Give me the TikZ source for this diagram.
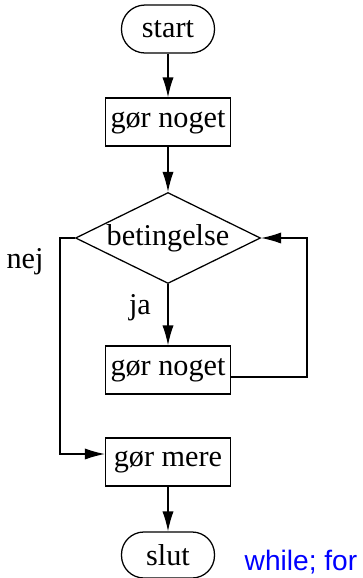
\documentclass[tikz,border=0pt]{standalone}
\usepackage{fontspec}
\setmainfont{Liberation Serif}
\newfontfamily\sansfont{Liberation Sans}
\usetikzlibrary{arrows.meta,shapes.geometric}

\begin{document}
\begin{tikzpicture} [> = {Latex[length=5mm,width=2.8mm]}, line width=0.9pt, font=\fontsize{21.5}{26}\selectfont]
            % Ramme
            \useasboundingbox (0,0) rectangle (9.075,-14.45);

            % Stilarter
            \tikzstyle{terminal}=[draw, rectangle, rounded corners=5.9mm, minimum width=2.325cm, minimum height=1.2cm, inner sep=0pt]
            \tikzstyle{handling}=[draw, rectangle, minimum width=3.125cm, minimum height=1.2cm, inner sep=0pt]
            \tikzstyle{valg}=[draw, diamond, aspect=2, minimum width=4.625cm, minimum height=2.275cm, inner sep=0pt]

            % Noder
            \node[terminal] (start) at (4.2,-0.725) {start};
            \node[handling] (noget1) at (4.2,-3.05) {gør noget};
            \node[valg] (beting) at (4.2,-5.95) {betingelse};
            \node[handling] (noget2) at (4.2,-9.25) {gør noget};
            \node[handling] (mere) at (4.2,-11.55) {gør mere};
            \node[terminal, minimum height=1.15cm, rounded corners=5.6mm] (slut) at (4.2,-13.875) {slut};
            \node (ja) at (3.5,-7.7) {ja};
            \node (nej) at (0.625,-6.55) {nej};
            \node[font=\sansfont\fontsize{20}{24}\selectfont, text=blue] (tekst) at (7.525,-14.05) {while; for};
            \coordinate (hoejre) at (7.675,-5.95);
            \coordinate (venstre) at (1.5,-11.35);

            % Kanter
            \draw[->] (start) -- (noget1);
            \draw[->] (noget1) -- (beting);
            \draw[->] (beting) -- (noget2);
            \draw[->] ([yshift=-1.75mm]noget2.east) -| (hoejre) -- (beting.east);
            \draw[->] (beting.west) -| (venstre) -- (venstre -| mere.west);
            \draw[->] (mere) -- (slut);
        \end{tikzpicture}
\end{document}
